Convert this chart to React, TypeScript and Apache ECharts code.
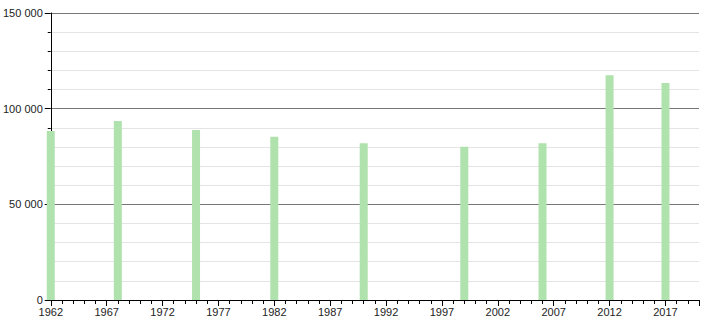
import React, { useEffect, useRef } from "react";
import * as echarts from "echarts";

const years = [1962, 1968, 1975, 1982, 1990, 1999, 2006, 2012, 2017];
const population = [88300, 93500, 88900, 85300, 81900, 80100, 81900, 117400, 113400];
const yTicks = [0, 50000, 100000, 150000];
const startYear = 1962;
const endYear = 2020;

const fmt = (v: number) => String(v).replace(/\B(?=(\d{3})+(?!\d))/g, " ");

export default function App() {
  const ref = useRef<HTMLDivElement>(null);
  useEffect(() => {
    document.body.style.margin = "0";
    const chart = echarts.init(ref.current!, null, { renderer: "svg" });
    chart.setOption({
      animation: false,
      grid: { left: 49, right: 11, top: 13, bottom: 20, containLabel: false },
      xAxis: {
        type: "value",
        min: 0,
        max: endYear - startYear,
        interval: 5,
        axisLine: { show: true, onZero: false, lineStyle: { color: "#000", width: 1 } },
        axisTick: { show: true, length: 6, lineStyle: { color: "#000" } },
        minorTick: { show: true, splitNumber: 5, length: 4, lineStyle: { color: "#000" } },
        splitLine: { show: false },
        axisLabel: {
          margin: 6,
          color: "#222",
          fontSize: 11,
          fontFamily: "Liberation Sans, Arial, sans-serif",
          showMaxLabel: false,
          formatter: (v: number) => String(v + startYear),
        },
      },
      yAxis: {
        type: "value",
        min: yTicks[0],
        max: yTicks[yTicks.length - 1],
        interval: 50000,
        axisLine: { show: true, lineStyle: { color: "#000", width: 1 } },
        axisTick: { show: true, length: 6, lineStyle: { color: "#000" } },
        minorTick: { show: true, splitNumber: 5, length: 3, lineStyle: { color: "#000" } },
        splitLine: { show: true, lineStyle: { color: "#777", width: 1 } },
        minorSplitLine: { show: true, lineStyle: { color: "#e4e4e4", width: 1 } },
        axisLabel: {
          margin: 8,
          color: "#222",
          fontSize: 11,
          fontFamily: "Liberation Sans, Arial, sans-serif",
          formatter: (v: number) => fmt(v),
        },
      },
      series: [
        {
          type: "bar",
          barWidth: 8,
          clip: false,
          itemStyle: { color: "#b0e2ad" },
          data: years.map((y, i) => [y - startYear, population[i]]),
          z: 1,
        },
      ],
    });
    return () => chart.dispose();
  }, []);
  return <div ref={ref} style={{ width: 710, height: 320, position: "absolute", left: 0, top: 0 }} />;
}
